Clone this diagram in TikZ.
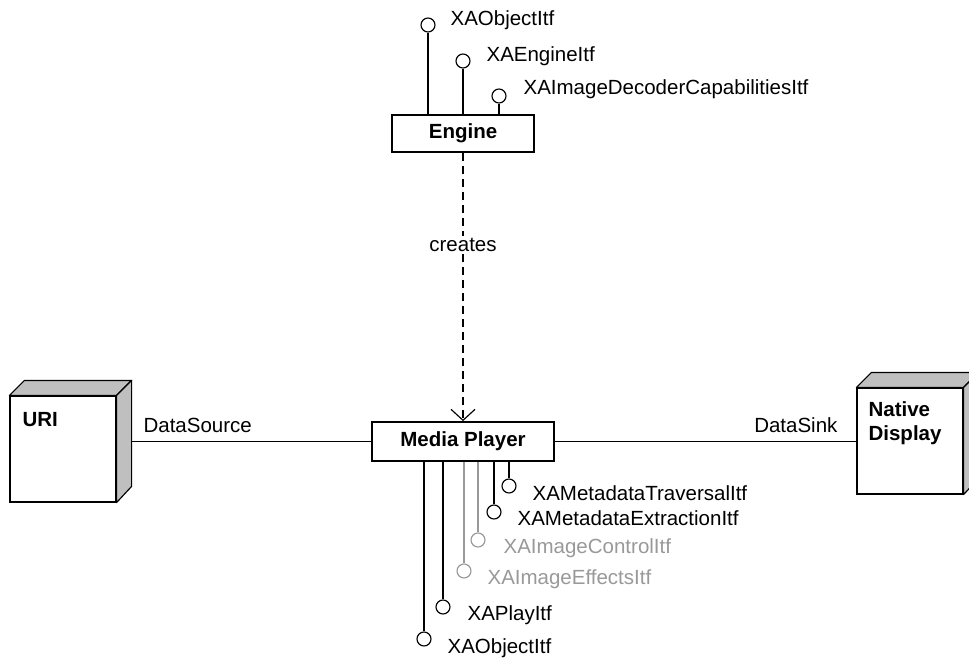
\documentclass[tikz,border=0pt]{standalone}
\usepackage{fontspec}
\setmainfont{Liberation Sans}
\usetikzlibrary{arrows.meta,calc}
\begin{document}
\begin{tikzpicture}[x=1pt,y=-1pt,
  font=\fontsize{20.5}{24}\selectfont,
  line width=1.15pt,
  classbox/.style={draw, line width=1.8pt, fill=white, inner sep=0pt,
    font=\fontsize{20.5}{24}\selectfont\bfseries},
  nodeface/.style={draw, line width=1.15pt, fill=white, minimum width=106pt,
    minimum height=106pt, inner sep=0pt},
  shade3d/.style={draw, line width=1.15pt, fill=black!25, line join=round},
  lolli/.style={circle, draw, fill=white, minimum size=14pt, inner sep=0pt, line width=1.15pt},
  itf/.style={anchor=base west, inner sep=0pt},
  faint/.style={draw=black!40, text=black!40},
  dep/.style={line width=1.15pt, dash pattern=on 8pt off 5pt},
  wire/.style={line width=1.15pt}
]
\useasboundingbox (0,0) rectangle (969,661);

% ---------- Engine and its interfaces ----------
\node[classbox, minimum width=142pt, minimum height=37pt] (engine) at (463,133.5) {Engine};

\node[lolli] (eobj) at (428,25) {};
\node[lolli] (eeng) at (463,61) {};
\node[lolli] (edec) at (499,96) {};
\draw[wire] (eobj.south) -- (eobj.south |- engine.north);
\draw[wire] (eeng.south) -- (eeng.south |- engine.north);
\draw[wire] (edec.south) -- (edec.south |- engine.north);
\node[itf] (leobj) at (450,26) {XAObjectItf};
\node[itf] (leeng) at (486,62) {XAEngineItf};
\node[itf] (ledec) at (523,95) {XAImageDecoderCapabilitiesItf};

% ---------- Media Player ----------
\node[classbox, minimum width=182pt, minimum height=39pt] (mp) at (463,441.5) {Media Player};

% creates dependency
\node[inner sep=2pt] (creates) at (463,245) {creates};
\draw[dep] (engine.south) -- (creates.north);
\draw[dep, -{Straight Barb[length=11pt,width=24pt]}] (creates.south) -- (mp.north);

% interfaces of the Media Player
\node[lolli] (mtrav) at (509,486) {};
\node[lolli] (mextr) at (494,512) {};
\node[lolli, faint] (mctrl) at (478,540) {};
\node[lolli, faint] (meff) at (464,571) {};
\node[lolli] (mplay) at (443,607) {};
\node[lolli] (mobj) at (424,639) {};
\draw[wire] (mtrav.north) -- (mtrav.north |- mp.south);
\draw[wire] (mextr.north) -- (mextr.north |- mp.south);
\draw[wire, black!40] (mctrl.north) -- (mctrl.north |- mp.south);
\draw[wire, black!40] (meff.north) -- (meff.north |- mp.south);
\draw[wire] (mplay.north) -- (mplay.north |- mp.south);
\draw[wire] (mobj.north) -- (mobj.north |- mp.south);
\node[itf] (lmtrav) at (532,500) {XAMetadataTraversalItf};
\node[itf] (lmextr) at (517,525) {XAMetadataExtractionItf};
\node[itf, text=black!40] (lmctrl) at (503,553) {XAImageControlItf};
\node[itf, text=black!40] (lmeff) at (487,584) {XAImageEffectsItf};
\node[itf] (lmplay) at (467,620) {XAPlayItf};
\node[itf] (lmobj) at (447,653) {XAObjectItf};

% ---------- URI deployment node ----------
\node[nodeface] (uri) at (63,449) {};
\draw[shade3d] (uri.north west) -- ++(15,-15) -- ($(uri.north east)+(15,-15)$)
  -- (uri.north east) -- cycle;
\draw[shade3d] (uri.north east) -- ++(15,-15) -- ++(0,106) -- (uri.south east) -- cycle;
\node[itf, font=\fontsize{20.5}{24}\selectfont\bfseries] (urilbl) at (22,426) {URI};
\coordinate (uriport) at (131,441.5);

% ---------- Native Display deployment node ----------
\node[nodeface] (nd) at (910,441) {};
\draw[shade3d] (nd.north west) -- ++(15,-15) -- ($(nd.north east)+(15,-15)$)
  -- (nd.north east) -- cycle;
\draw[shade3d] (nd.north east) -- ++(15,-15) -- ++(0,106) -- (nd.south east) -- cycle;
\node[anchor=north west, inner sep=0pt, align=left,
  font=\fontsize{20.5}{24}\selectfont\bfseries] (ndlbl) at (868,401) {Native\\Display};

% ---------- data connections ----------
\draw[wire] (uriport) -- (mp.west |- uriport);
\draw[wire] (mp.east) -- (mp.east -| nd.west);
\node[itf] (lsrc) at (143,432) {DataSource};
\node[anchor=base east, inner sep=0pt] (lsink) at (838,432) {DataSink};
\end{tikzpicture}
\end{document}
